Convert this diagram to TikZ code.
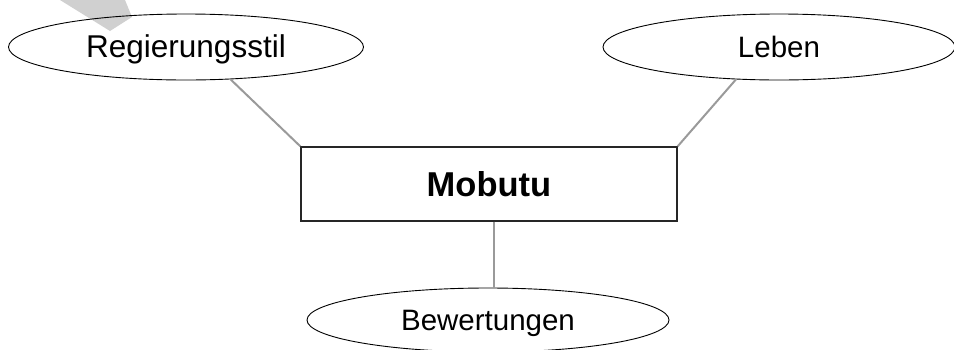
\documentclass[tikz,border=0pt]{standalone}
\usepackage{fontspec}
\setmainfont{Liberation Sans}
\usetikzlibrary{shapes.geometric}
\definecolor{linkgrey}{HTML}{9A9A9A}
\definecolor{pointergrey}{HTML}{D0D0D0}
\tikzset{
  topic/.style={draw=black, line width=0.9pt, ellipse, inner sep=0pt,
    font=\fontsize{29.5}{30}\selectfont, text height=21pt, text depth=0pt},
  centerbox/.style={draw=black!85, line width=1.3pt, rectangle, inner sep=0pt,
    minimum width=376pt, minimum height=74pt,
    font=\bfseries\fontsize{34.5}{35}\selectfont, text height=25pt, text depth=0pt},
  link/.style={draw=linkgrey, line width=2pt}
}
\begin{document}
\begin{tikzpicture}[x=1pt, y=-1pt]
  \useasboundingbox (0,0) rectangle (954,349);
  % pointer shape behind the upper left topic
  \fill[pointergrey] (60,0) -- (125,0) -- (132,17) -- (110,31) -- cycle;
  % topics and central box
  \node[topic, minimum width=355pt, minimum height=66pt,
        font=\fontsize{31.5}{32}\selectfont] (reg) at (186,47) {Regierungsstil};
  \node[topic, minimum width=352pt, minimum height=66pt] (leb) at (779,47) {Leben};
  \node[centerbox] (box) at (489,184) {Mobutu};
  \node[topic, minimum width=362pt, minimum height=64pt] (bew) at (488,320) {Bewertungen};
  % connectors
  \draw[link] (box.north west) -- (reg.-36);
  \draw[link] (box.north east) -- (leb.-143);
  \coordinate (bt) at ([xshift=4.5pt]box.south);
  \draw[link] (bt) -- (bt |- bew.north);
\end{tikzpicture}
\end{document}
